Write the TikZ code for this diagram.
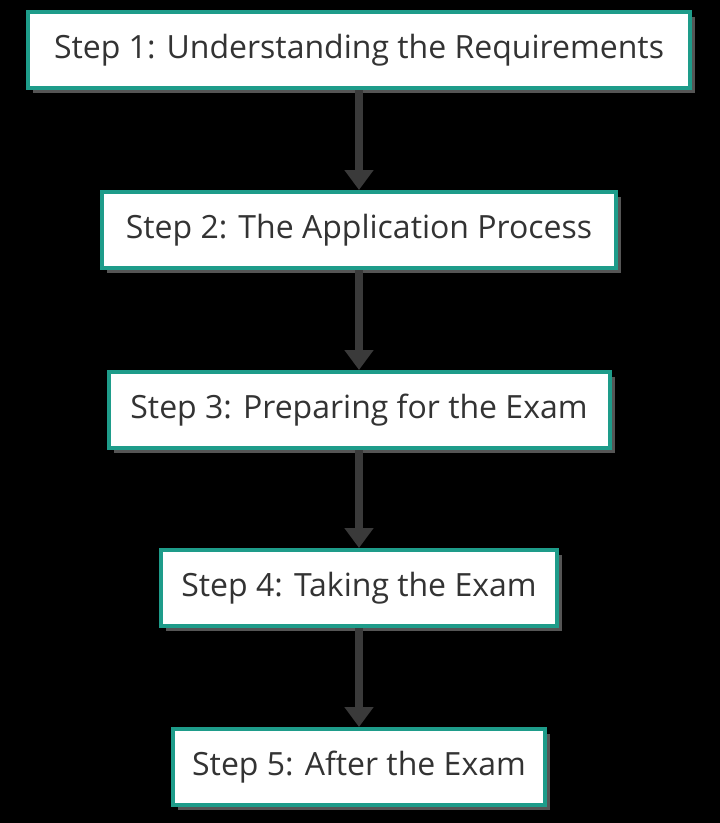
\documentclass[tikz,border=0pt]{standalone}
\usepackage{fontspec}
\setmainfont{Open Sans}
\usetikzlibrary{arrows.meta,shadows}
\definecolor{stepteal}{HTML}{1E9C8A}
\definecolor{stepgray}{HTML}{555555}
\definecolor{arrowgray}{HTML}{3A3A3A}
\tikzset{
  stepbox/.style={draw=stepteal, line width=4pt, fill=white, minimum height=76pt,
    font=\fontsize{32}{36}\selectfont, text=black!80, inner xsep=10pt,
    drop shadow={shadow xshift=5pt, shadow yshift=-5pt, fill=stepgray, opacity=1}},
  link/.style={draw=arrowgray, line width=8pt, -{Triangle[length=20pt,width=28pt]}}
}
\begin{document}
\begin{tikzpicture}[x=1pt,y=-1pt]
  \fill[black] (0,0) rectangle (720,823);
  \node[stepbox, minimum width=662pt] (s1) at (359,50) {Step 1: Understanding the Requirements};
  \node[stepbox, minimum width=514pt] (s2) at (359,230) {Step 2: The Application Process};
  \node[stepbox, minimum width=501pt] (s3) at (359,410) {Step 3: Preparing for the Exam};
  \node[stepbox, minimum width=396pt] (s4) at (359,588) {Step 4: Taking the Exam};
  \node[stepbox, minimum width=372pt] (s5) at (359,767) {Step 5: After the Exam};
  \foreach \a/\b in {s1/s2,s2/s3,s3/s4,s4/s5}
    \draw[link] (\a.south) -- (\b.north);
\end{tikzpicture}
\end{document}
